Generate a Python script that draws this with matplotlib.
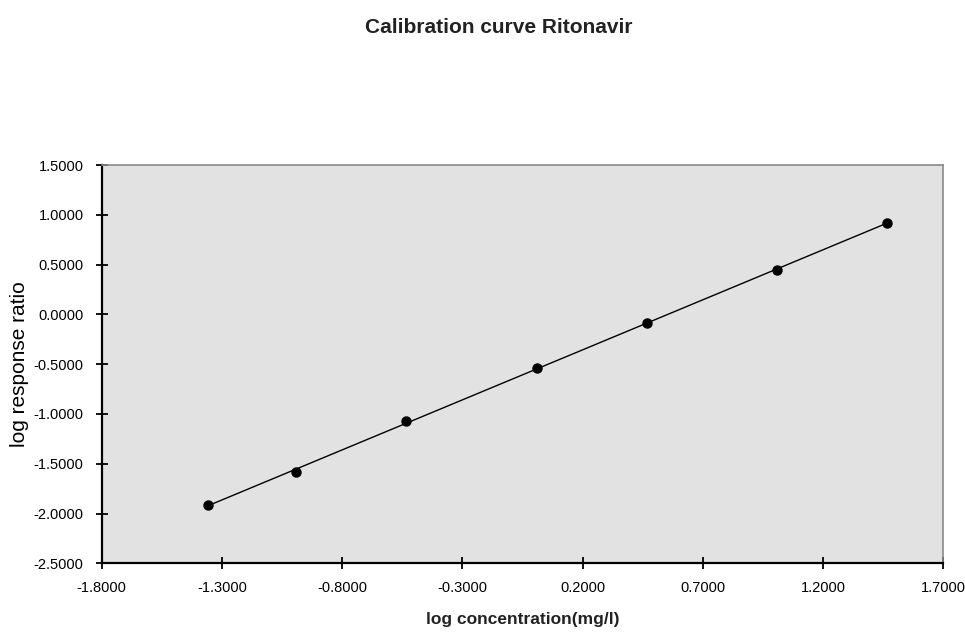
import numpy as np
import matplotlib
matplotlib.use('Agg')
import matplotlib.pyplot as plt

# calibration standards (log10 of concentration in mg/l vs log10 of response ratio)
log_conc = [-1.359, -0.992, -0.533, 0.010, 0.466, 1.009, 1.467]
log_resp = [-1.914, -1.585, -1.070, -0.541, -0.083, 0.446, 0.918]

xticks = [-1.8, -1.3, -0.8, -0.3, 0.2, 0.7, 1.2, 1.7]
yticks = [-2.5, -2.0, -1.5, -1.0, -0.5, 0.0, 0.5, 1.0, 1.5]

plt.rcParams['font.family'] = ['Liberation Sans', 'DejaVu Sans']

fig = plt.figure(figsize=(9.65, 6.33), dpi=100)
ax = fig.add_axes([0.1054, 0.110, 0.8721, 0.6293])
ax.set_facecolor('#e2e2e2')

# linear trendline through the standards
slope, icpt = np.polyfit(log_conc, log_resp, 1)
xfit = np.array([min(log_conc), max(log_conc)])
ax.plot(xfit, slope * xfit + icpt, color='black', lw=1.0, zorder=2)
ax.plot(log_conc, log_resp, ls='None', marker='o', markersize=6.5,
        color='black', zorder=3)

ax.set_xlim(-1.8, 1.7)
ax.set_ylim(-2.5, 1.5)
ax.set_xticks(xticks)
ax.set_yticks(yticks)
ax.set_xticklabels(['%.4f' % v for v in xticks])
ax.set_yticklabels(['%.4f' % v for v in yticks])
ax.tick_params(direction='inout', length=8, width=1.3, labelsize=10.5)
ax.tick_params(axis='x', pad=9)
ax.tick_params(axis='y', pad=9)

for side in ['left', 'bottom']:
    ax.spines[side].set_linewidth(1.6)
    ax.spines[side].set_color('black')
for side in ['top', 'right']:
    ax.spines[side].set_linewidth(1.2)
    ax.spines[side].set_color('#8a8a8a')

ax.set_xlabel('log concentration(mg/l)', fontsize=12.5, fontweight='bold',
              color='#222222', labelpad=12)
ax.set_ylabel('log response ratio', fontsize=15, labelpad=3)
fig.text(0.517, 0.957, 'Calibration curve Ritonavir', ha='center', va='center',
         fontsize=15, fontweight='bold', color='#222222')

fig.savefig('out.png', dpi=100)
